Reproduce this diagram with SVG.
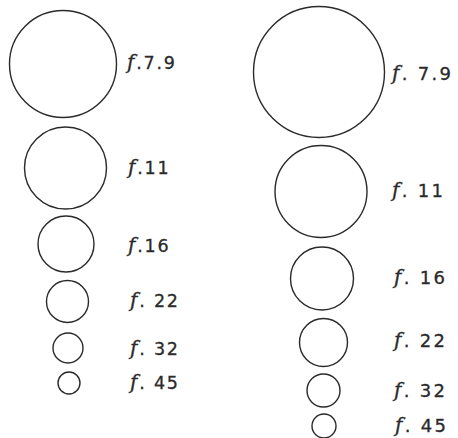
<svg xmlns="http://www.w3.org/2000/svg" width="458" height="438" viewBox="0 0 458 438">
<style>
.ap{fill:none;stroke:#2a2a2a;stroke-width:1.4}
.lb{font-family:"DejaVu Sans","Liberation Sans",sans-serif;font-size:17.5px;fill:#2a2a2a;stroke:#2a2a2a;stroke-width:0.3;letter-spacing:1.8px}
.rb{font-size:18px;letter-spacing:2.3px}
.fi{font-family:"DejaVu Serif","Liberation Serif",serif;font-style:italic;font-size:20px}
</style>
<rect width="458" height="438" fill="#ffffff"/>
<g id="left-column">
<g id="l-f7_9"><circle class="ap" cx="63" cy="64" r="53.5"/><text class="lb" x="127" y="69"><tspan class="fi">f</tspan>.7.9</text></g>
<g id="l-f11"><circle class="ap" cx="65.5" cy="168" r="41"/><text class="lb" x="128" y="174"><tspan class="fi">f</tspan>.11</text></g>
<g id="l-f16"><circle class="ap" cx="66" cy="244" r="28"/><text class="lb" x="128" y="252"><tspan class="fi">f</tspan>.16</text></g>
<g id="l-f22"><circle class="ap" cx="67.5" cy="301.5" r="21"/><text class="lb" x="130" y="307"><tspan class="fi">f</tspan>. 22</text></g>
<g id="l-f32"><circle class="ap" cx="68" cy="348" r="15"/><text class="lb" x="130" y="355"><tspan class="fi">f</tspan>. 32</text></g>
<g id="l-f45"><circle class="ap" cx="69" cy="383" r="11"/><text class="lb" x="130" y="389"><tspan class="fi">f</tspan>. 45</text></g>
</g>
<g id="right-column">
<g id="r-f7_9"><circle class="ap" cx="319" cy="72" r="65.5"/><text class="lb rb" x="392" y="80"><tspan class="fi">f</tspan>. 7.9</text></g>
<g id="r-f11"><circle class="ap" cx="321" cy="191.5" r="46"/><text class="lb rb" x="392" y="197"><tspan class="fi">f</tspan>. 11</text></g>
<g id="r-f16"><circle class="ap" cx="322" cy="278.5" r="31.5"/><text class="lb rb" x="394" y="284"><tspan class="fi">f</tspan>. 16</text></g>
<g id="r-f22"><circle class="ap" cx="323.5" cy="342.5" r="24"/><text class="lb rb" x="394" y="347"><tspan class="fi">f</tspan>. 22</text></g>
<g id="r-f32"><circle class="ap" cx="323.5" cy="390.5" r="16.5"/><text class="lb rb" x="394" y="397"><tspan class="fi">f</tspan>. 32</text></g>
<g id="r-f45"><circle class="ap" cx="324" cy="426" r="12"/><text class="lb rb" x="395" y="432"><tspan class="fi">f</tspan>. 45</text></g>
</g>
</svg>
